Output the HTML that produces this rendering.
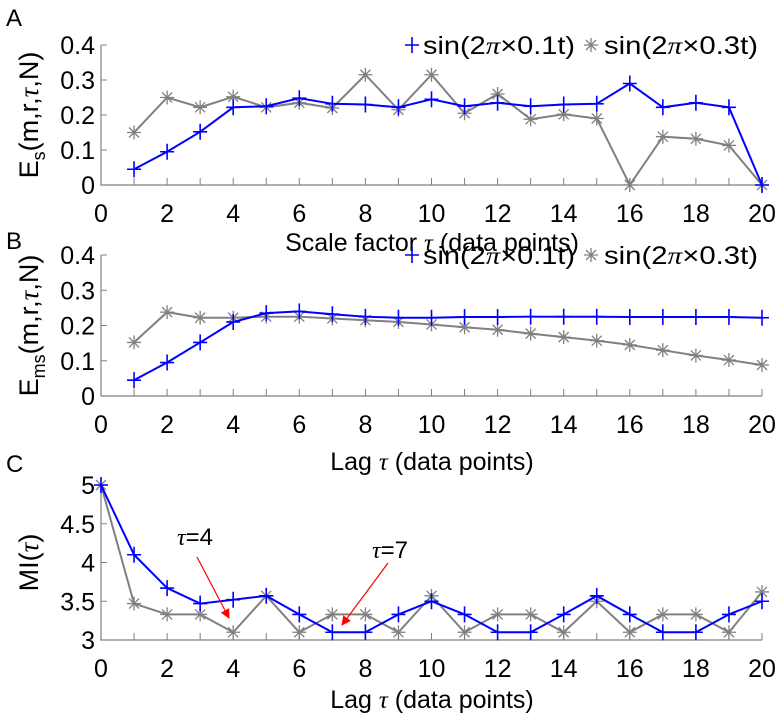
<!DOCTYPE html>
<html><head><meta charset="utf-8"><style>
body{margin:0;background:#fff}
svg{display:block;font-family:"Liberation Sans",sans-serif}
</style></head><body>
<svg id="fig" width="779" height="713" viewBox="0 0 779 713" xmlns="http://www.w3.org/2000/svg">
<defs><marker id="ah" viewBox="0 0 10 10" refX="9" refY="5" markerWidth="8" markerHeight="8" orient="auto"><path d="M0,0L10,5L0,10z" fill="#f00"/></marker></defs>
</svg>
<script>
const xA=[1,2,3,4,5,6,7,8,9,10,11,12,13,14,15,16,17,18,19,20];
const aBlue=[0.045,0.095,0.152,0.222,0.225,0.248,0.232,0.230,0.222,0.245,0.225,0.235,0.225,0.23,0.232,0.29,0.222,0.235,0.222,0];
const aGray=[0.15,0.25,0.222,0.252,0.222,0.235,0.22,0.315,0.215,0.315,0.205,0.26,0.188,0.202,0.19,0,0.138,0.132,0.113,0];
const bBlue=[0.045,0.095,0.152,0.21,0.235,0.24,0.232,0.225,0.222,0.222,0.224,0.224,0.225,0.225,0.225,0.224,0.224,0.224,0.224,0.222];
const bGray=[0.152,0.238,0.222,0.222,0.225,0.225,0.22,0.215,0.21,0.203,0.195,0.188,0.177,0.167,0.157,0.145,0.13,0.115,0.102,0.088];
const xC=[0,1,2,3,4,5,6,7,8,9,10,11,12,13,14,15,16,17,18,19,20];
const cBlue=[5,4.1,3.67,3.47,3.52,3.57,3.33,3.1,3.1,3.33,3.5,3.33,3.1,3.1,3.33,3.57,3.33,3.1,3.1,3.33,3.5];
const cGray=[5,3.47,3.33,3.33,3.1,3.57,3.1,3.33,3.33,3.1,3.57,3.1,3.33,3.33,3.1,3.5,3.1,3.33,3.33,3.1,3.62];
const xTicks=[0,2,4,6,8,10,12,14,16,18,20];
const yTicksAB=[0,0.1,0.2,0.3,0.4];
const yTicksC=[3,3.5,4,4.5,5];

const svg=document.getElementById('fig');
const NS='http://www.w3.org/2000/svg';
function el(t,a,p){const e=document.createElementNS(NS,t);for(const k in a)e.setAttribute(k,a[k]);(p||svg).appendChild(e);return e;}
const X0=101,X1=762;
const sx=v=>X0+(X1-X0)*v/20;
const BLUE='#0000ff',GRAY='#808080';
const FS=25;

function plus(g,x,y){el('path',{d:`M${x-7},${y}H${x+7}M${x},${y-8}V${y+8}`,stroke:BLUE,'stroke-width':1.6,fill:'none'},g);}
function star(g,x,y){el('path',{d:`M${x-7},${y}H${x+7}M${x},${y-7}V${y+7}M${x-5},${y-5}L${x+5},${y+5}M${x-5},${y+5}L${x+5},${y-5}`,stroke:GRAY,'stroke-width':1.3,fill:'none'},g);}

function panel(name,yb,yt,ymin,ymax,yTicks,fmt,xs,blue,gray,xtitle,xtY,ytitle){
  const sy=v=>yb-(yb-yt)*(v-ymin)/(ymax-ymin);
  const g=el('g',{});
  
  
  const ax=el('g',{},g);
  
  
  el('path',{d:`M${X0},${yt}V${yb}H${X1}`,stroke:'#808080','stroke-width':1.2,fill:'none'},ax);
  for(let i=0;i<=20;i++){el('line',{x1:sx(i),x2:sx(i),y1:yb,y2:yb-7,stroke:'#808080','stroke-width':1},ax);}
  xTicks.forEach(v=>{const t=el('text',{x:sx(v),y:yb+37,'text-anchor':'middle','font-size':FS},ax);t.textContent=v;
    
    });
  yTicks.forEach(v=>{el('line',{x1:X0,x2:X0+6,y1:sy(v),y2:sy(v),stroke:'#808080'},ax);
    const t=el('text',{x:X0-6,y:sy(v)+9,'text-anchor':'end','font-size':FS},ax);t.textContent=fmt(v);
    
    });
  const xt=el('text',{x:432,y:xtY,'text-anchor':'middle','font-size':FS},g);
  xt.innerHTML=xtitle;
  
  
  const yt2=el('text',{transform:`translate(38,${(yb+yt)/2}) rotate(-90)`,'text-anchor':'middle','font-size':27},g);
  yt2.innerHTML=ytitle;
  
  
  const gl=el('polyline',{points:xs.map((x,i)=>sx(x)+','+sy(gray[i])).join(' '),fill:'none',stroke:GRAY,'stroke-width':2},g);
  
  
  xs.forEach((x,i)=>star(g,sx(x),sy(gray[i])));
  const bl=el('polyline',{points:xs.map((x,i)=>sx(x)+','+sy(blue[i])).join(' '),fill:'none',stroke:BLUE,'stroke-width':2},g);
  
  
  xs.forEach((x,i)=>plus(g,sx(x),sy(blue[i])));
  return g;
}
const f1=v=>v===0?'0':v.toFixed(1);
panel('panel-a',185,45,0,0.4,yTicksAB,f1,xA,aBlue,aGray,'Scale factor <tspan font-style="italic" font-family="Liberation Serif">τ</tspan> (data points)',251,'E<tspan font-size="18" dy="7">s</tspan><tspan dy="-7">(m,r,</tspan><tspan font-style="italic" font-family="Liberation Serif">τ</tspan>,N)');
panel('panel-b',396,255,0,0.4,yTicksAB,f1,xA,bBlue,bGray,'Lag <tspan font-style="italic" font-family="Liberation Serif">τ</tspan> (data points)',470,'E<tspan font-size="18" dy="7">ms</tspan><tspan dy="-7">(m,r,</tspan><tspan font-style="italic" font-family="Liberation Serif">τ</tspan>,N)');
panel('panel-c',640,485,3,5,yTicksC,v=>String(v),xC,cBlue,cGray,'Lag <tspan font-style="italic" font-family="Liberation Serif">τ</tspan> (data points)',708,'MI(<tspan font-style="italic" font-family="Liberation Serif">τ</tspan>)');

[['A',17],['B',240],['C',463]].forEach(([l,y])=>{const t=el('text',{x:6,y:y+9,'font-size':24});t.textContent=l;
  
  });

function legend(y,name){
  const g=el('g',{});
  
  
  plus(g,412,y);
  let t=el('text',{x:423,y:y+9,'font-size':FS,textLength:152,lengthAdjust:'spacingAndGlyphs'},g);t.innerHTML='sin(2<tspan font-style="italic" font-family="Liberation Serif">π</tspan>×0.1t)';
  star(g,591,y);
  t=el('text',{x:604,y:y+9,'font-size':FS,textLength:154,lengthAdjust:'spacingAndGlyphs'},g);t.innerHTML='sin(2<tspan font-style="italic" font-family="Liberation Serif">π</tspan>×0.3t)';
}
legend(45,'legend-a');legend(255,'legend-b');

const an=el('g',{});


let t=el('text',{x:177,y:545,'font-size':24},an);t.innerHTML='<tspan font-style="italic" font-family="Liberation Serif">τ</tspan>=4';
t=el('text',{x:372,y:558,'font-size':24},an);t.innerHTML='<tspan font-style="italic" font-family="Liberation Serif">τ</tspan>=7';
el('line',{x1:197,y1:557,x2:229,y2:618,stroke:'#f00','stroke-width':1.2,'marker-end':'url(#ah)'},an);
el('line',{x1:388,y1:563,x2:342,y2:625,stroke:'#f00','stroke-width':1.2,'marker-end':'url(#ah)'},an);
</script>
</body></html>
